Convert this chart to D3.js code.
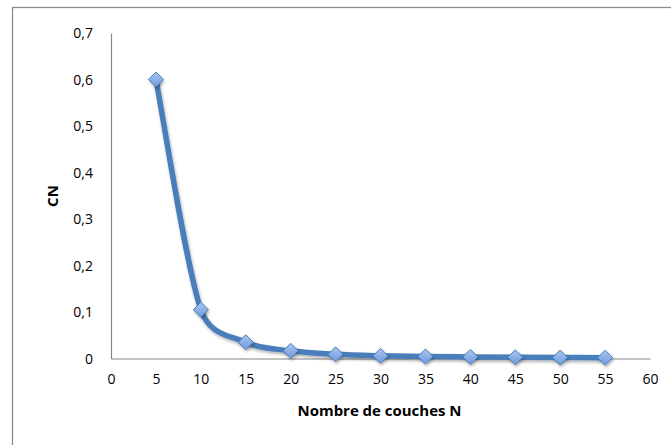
<!DOCTYPE html>
<html>
<head>
<meta charset="utf-8">
<script src="https://cdn.jsdelivr.net/npm/d3@7"></script>
<style>
  html, body { margin: 0; padding: 0; background: #fff; }
  svg { display: block; }
  text { font-family: "Open Sans", "Liberation Sans", sans-serif; fill: #000; }
</style>
</head>
<body>
<script>
const couches = [5, 10, 15, 20, 25, 30, 35, 40, 45, 50, 55];
const cn = [0.6, 0.105, 0.035, 0.0165, 0.009, 0.0058, 0.0043, 0.0034, 0.0026, 0.0021, 0.0017];
const xTicks = [0, 5, 10, 15, 20, 25, 30, 35, 40, 45, 50, 55, 60];
const yTicks = [0, 0.1, 0.2, 0.3, 0.4, 0.5, 0.6, 0.7];
const xTitle = "Nombre de couches N";
const yTitle = "CN";

// Spreadsheet-style smoothed curve (Bezier, control arms capped at half segment length)
function SmoothCurve(context) { this._context = context; }
SmoothCurve.prototype = {
  areaStart() { this._line = 0; },
  areaEnd() { this._line = NaN; },
  lineStart() { this._pts = []; },
  point(x, y) { this._pts.push([+x, +y]); },
  lineEnd() {
    const p = this._pts, n = p.length, c = this._context;
    if (!n) return;
    c.moveTo(p[0][0], p[0][1]);
    const dist = (a, b) => Math.hypot(b[0] - a[0], b[1] - a[1]);
    for (let i = 0; i < n - 1; i++) {
      const P0 = p[Math.max(i - 1, 0)], P1 = p[i], P2 = p[i + 1], P3 = p[Math.min(i + 2, n - 1)];
      const d12 = dist(P1, P2), d02 = dist(P0, P2), d13 = dist(P1, P3);
      let f0 = 1 / 6, f3 = 1 / 6;
      if (d02 / 6 >= d12 / 2 && d02 > 0) f0 = (d12 / 2) / d02;
      if (d13 / 6 >= d12 / 2 && d13 > 0) f3 = (d12 / 2) / d13;
      const c1 = [P1[0] + (P2[0] - P0[0]) * f0, P1[1] + (P2[1] - P0[1]) * f0];
      const c2 = [P2[0] - (P3[0] - P1[0]) * f3, P2[1] - (P3[1] - P1[1]) * f3];
      c.bezierCurveTo(c1[0], c1[1], c2[0], c2[1], P2[0], P2[1]);
    }
  }
};
const curveSmooth = ctx => new SmoothCurve(ctx);

const W = 671, H = 445;
const svg = d3.select("body").append("svg").attr("width", W).attr("height", H);

const defs = svg.append("defs");
const grad = defs.append("linearGradient").attr("id", "mk").attr("x1", 0).attr("y1", 0).attr("x2", 0).attr("y2", 1);
grad.append("stop").attr("offset", "0%").attr("stop-color", "#a9c6ee");
grad.append("stop").attr("offset", "100%").attr("stop-color", "#6f9be0");
const sh = defs.append("filter").attr("id", "sh").attr("x", "-20%").attr("y", "-20%").attr("width", "140%").attr("height", "140%");
sh.append("feDropShadow").attr("dx", 1).attr("dy", 2).attr("stdDeviation", 1.6).attr("flood-color", "#000").attr("flood-opacity", 0.3);

// outer border
svg.append("rect").attr("x", 12.5).attr("y", 7.5).attr("width", 700).attr("height", 500)
  .attr("fill", "none").attr("stroke", "#8c8c8c").attr("stroke-width", 1.3);

const x = d3.scaleLinear().domain([0, 60]).range([111, 650]);
const y = d3.scaleLinear().domain([0, 0.7]).range([358.5, 33]);

const fmtY = d => d === 0 ? "0" : d3.format(".1f")(d).replace(".", ",");

// y axis
const yAx = svg.append("g").attr("transform", `translate(${x(0)},0)`)
  .call(d3.axisLeft(y).tickValues(yTicks).tickFormat(fmtY).tickSize(0).tickPadding(18));
yAx.select(".domain").attr("stroke", "#868686").attr("stroke-width", 1.2);
yAx.selectAll("text").attr("font-size", 14).attr("font-family", "'Open Sans', sans-serif").attr("dy", "0.35em");

// x axis
const xAx = svg.append("g").attr("transform", `translate(0,${y(0)})`)
  .call(d3.axisBottom(x).tickValues(xTicks).tickFormat(d3.format("d")).tickSize(0).tickPadding(16));
xAx.select(".domain").attr("stroke", "#868686").attr("stroke-width", 1.2);
xAx.selectAll("text").attr("font-size", 14).attr("font-family", "'Open Sans', sans-serif");

// titles
svg.append("text").attr("x", x(30) - 1).attr("y", 416).attr("text-anchor", "middle")
  .attr("font-size", 15).attr("font-weight", "bold")
  .attr("textLength", 164).attr("lengthAdjust", "spacingAndGlyphs").text(xTitle);
svg.append("text").attr("transform", "translate(58,196) rotate(-90)").attr("text-anchor", "middle")
  .attr("font-size", 15).attr("font-weight", "bold").text(yTitle);

const data = couches.map((c, i) => ({ x: c, y: cn[i] }));

const line = d3.line().x(d => x(d.x)).y(d => y(d.y)).curve(curveSmooth);
svg.append("path").datum(data).attr("d", line).attr("fill", "none")
  .attr("stroke", "#4a7ebb").attr("stroke-width", 5.5).attr("stroke-linejoin", "round")
  .attr("stroke-linecap", "round").attr("filter", "url(#sh)");

const s = 7.5;
svg.append("g").selectAll("path").data(data).join("path")
  .attr("d", `M0,${-s}L${s},0L0,${s}L${-s},0Z`)
  .attr("transform", d => `translate(${x(d.x)},${y(d.y)})`)
  .attr("fill", "url(#mk)").attr("stroke", "#4a7ebb").attr("stroke-width", 1)
  .attr("filter", "url(#sh)");
</script>
</body>
</html>
